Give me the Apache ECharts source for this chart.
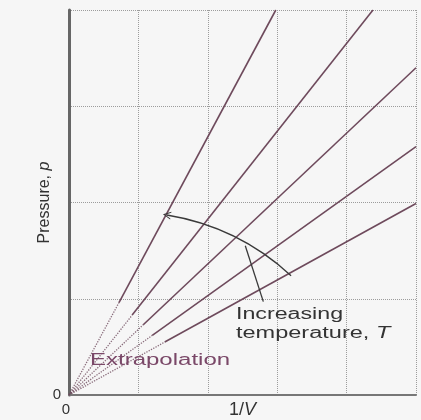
<!DOCTYPE html>
<html>
<head>
<meta charset="utf-8">
<script src="https://cdn.jsdelivr.net/npm/echarts@6/dist/echarts.min.js"></script>
<style>
  html, body { margin: 0; padding: 0; background: #f6f6f6; }
  #chart { width: 421px; height: 420px; }
</style>
</head>
<body>
<div id="chart"></div>
<script>
// Isotherms of pressure against 1/V, coldest (steepest) first.
// Each isotherm is measured where the solid segment begins and ends;
// the dotted part extrapolates it back to the origin.
const isothermStartX = [0.72, 0.91, 1.07, 1.20, 1.38];
const isothermStartY = [0.96, 0.83, 0.73, 0.62, 0.55];
const isothermEndX   = [2.98, 4.38, 5.00, 5.00, 5.00];
const isothermEndY   = [4.00, 4.00, 3.40, 2.58, 1.99];
const originPoint = [0, 0];

// Axis ranges and tick labels (only the origin is labelled)
const xRange = [0, 5];
const yRange = [0, 4];
const xTickLabels = ['0'];
const yTickLabels = ['0'];

// "Increasing temperature" arrow and its label pointer, in axis units
const arrowTail = [3.20, 1.24];
const arrowTip = [1.41, 1.87];
const pointerFrom = [2.54, 1.55];
const pointerTo = [2.80, 0.97];

const lineColor = '#6e4a5c';
const textFont = '"Liberation Sans", Arial, sans-serif';
// open chevron arrowhead, drawn pointing up
const chevron = 'path://M0,10 L5,0 L10,10 L8.6,10 L5,2.8 L1.4,10 Z';

const series = [];
isothermStartX.forEach((sx, i) => {
  const start = [sx, isothermStartY[i]];
  const end = [isothermEndX[i], isothermEndY[i]];
  series.push({
    type: 'line', data: [start, end], symbol: 'none', silent: true,
    lineStyle: { color: lineColor, width: 1.6 }, z: 3
  });
  series.push({
    type: 'line', data: [originPoint, start], symbol: 'none', silent: true,
    lineStyle: { color: lineColor, width: 1.3, type: 'dotted', opacity: 0.8 }, z: 3
  });
});

series.push({
  type: 'lines', coordinateSystem: 'cartesian2d', silent: true, z: 4,
  symbol: ['none', chevron], symbolSize: [11, 8],
  lineStyle: { color: '#3a3a3a', width: 1.3, curveness: -0.15, opacity: 1 },
  data: [{ coords: [arrowTail, arrowTip] }]
});
series.push({
  type: 'lines', coordinateSystem: 'cartesian2d', silent: true, z: 4,
  symbol: ['none', 'none'],
  lineStyle: { color: '#3a3a3a', width: 1.3, curveness: 0, opacity: 1 },
  data: [{ coords: [pointerFrom, pointerTo] }]
});

const chart = echarts.init(document.getElementById('chart'), null, { renderer: 'canvas' });
chart.setOption({
  animation: false,
  backgroundColor: '#f6f6f6',
  grid: { left: 69, right: 5, top: 10, bottom: 25, containLabel: false, outerBoundsMode: 'none' },
  xAxis: {
    type: 'value', min: xRange[0], max: xRange[1], interval: 1,
    axisLine: { show: true, onZero: false, lineStyle: { color: '#777', width: 2 } },
    axisTick: { show: false },
    splitLine: { show: true, lineStyle: { color: '#9c9c9c', width: 1, type: 'dotted' } },
    axisLabel: {
      margin: 7, fontSize: 15, color: '#333', fontFamily: textFont,
      padding: [0, 6, 0, 0],
      formatter: (v, idx) => xTickLabels[idx] || ''
    },
    name: '{n|1/}{i|V}', nameLocation: 'middle', nameGap: 6, nameMoveOverlap: false,
    nameTextStyle: {
      rich: {
        n: { fontSize: 18, color: '#333', fontFamily: textFont },
        i: { fontSize: 18, color: '#333', fontFamily: textFont, fontStyle: 'italic' }
      }
    }
  },
  yAxis: {
    type: 'value', min: yRange[0], max: yRange[1], interval: 1,
    axisLine: { show: true, onZero: false, lineStyle: { color: '#666', width: 3 } },
    axisTick: { show: false },
    splitLine: { show: true, lineStyle: { color: '#9c9c9c', width: 1, type: 'dotted' } },
    axisLabel: {
      margin: 8, fontSize: 15, color: '#333', fontFamily: textFont,
      padding: [0, 0, 6, 0],
      formatter: (v, idx) => yTickLabels[idx] || ''
    },
    name: '{n|Pressure, }{i|p}', nameLocation: 'middle', nameGap: 16, nameRotate: 90,
    nameMoveOverlap: false,
    nameTextStyle: {
      rich: {
        n: { fontSize: 16, color: '#333', fontFamily: textFont },
        i: { fontSize: 16, color: '#333', fontFamily: textFont, fontStyle: 'italic' }
      }
    }
  },
  series: series,
  graphic: [
    {
      type: 'text', x: 236, y: 315, scaleX: 1.45, z: 10, silent: true,
      style: { text: 'Increasing', fontSize: 16, fontFamily: textFont, fill: '#333',
               align: 'left', verticalAlign: 'middle' }
    },
    {
      type: 'text', x: 236, y: 334, scaleX: 1.47, z: 10, silent: true,
      style: {
        text: '{n|temperature, }{i|T}', align: 'left', verticalAlign: 'middle',
        rich: {
          n: { fontSize: 16, fontFamily: textFont, fill: '#333' },
          i: { fontSize: 16, fontFamily: textFont, fill: '#333', fontStyle: 'italic' }
        }
      }
    },
    {
      type: 'text', x: 90, y: 361, scaleX: 1.5, z: 10, silent: true,
      style: { text: 'Extrapolation', fontSize: 16, fontFamily: textFont, fill: '#7a4868',
               align: 'left', verticalAlign: 'middle' }
    }
  ]
});
</script>
</body>
</html>
